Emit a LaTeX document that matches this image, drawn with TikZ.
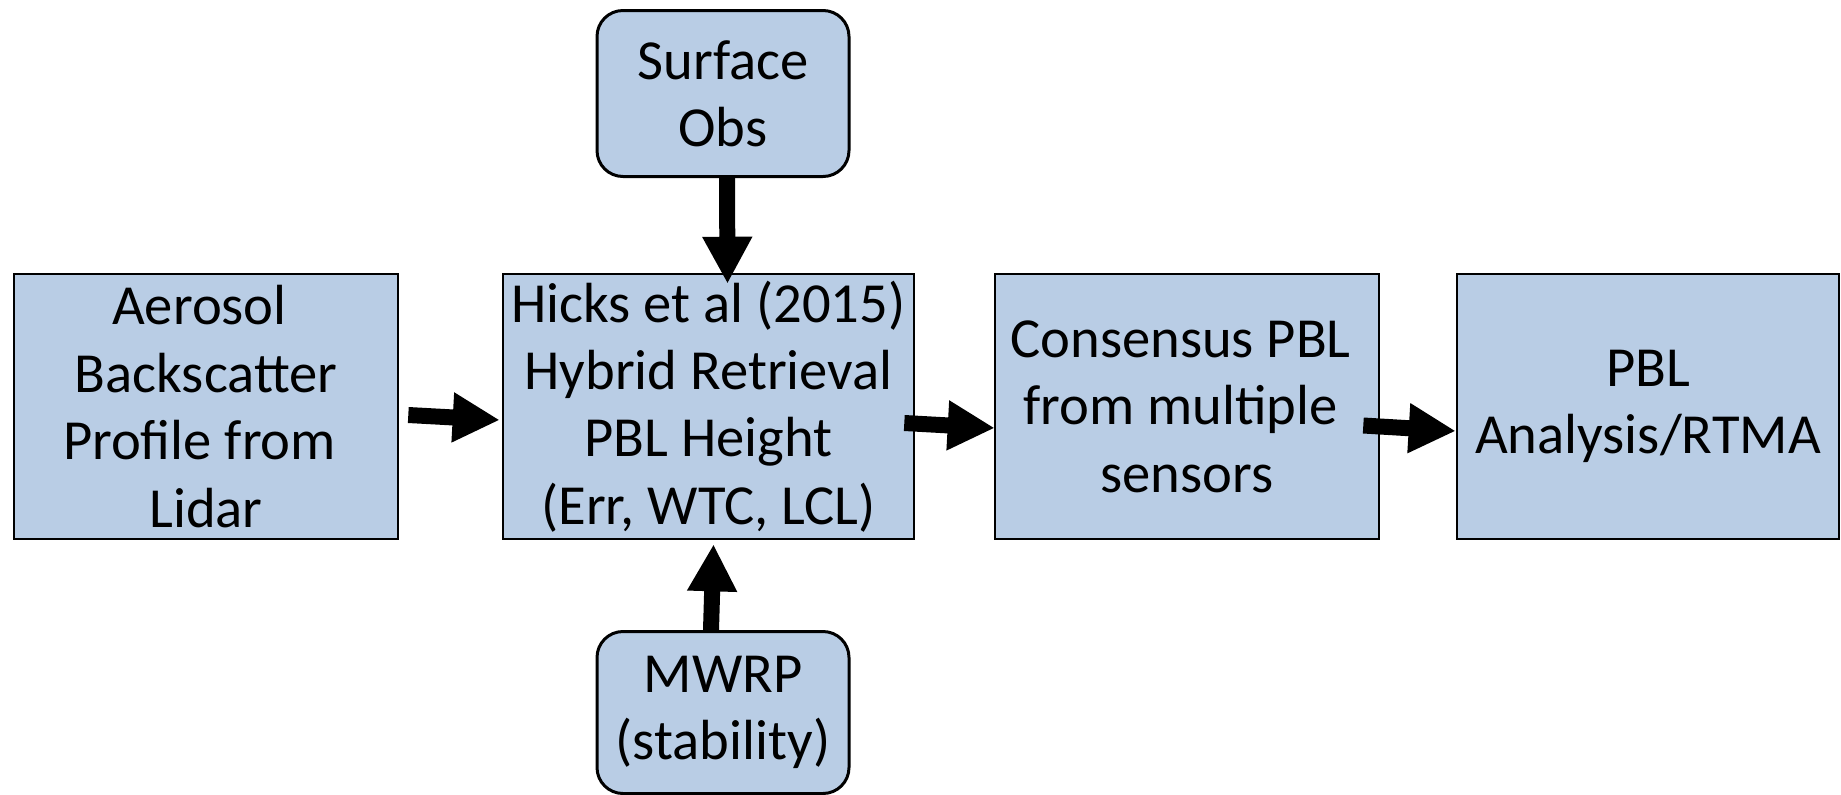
\documentclass[tikz,border=0pt]{standalone}
\usepackage{fontspec}
\setmainfont{Carlito}
\usetikzlibrary{arrows.meta}
\definecolor{boxblue}{RGB}{185,205,229}
\tikzset{
  box/.style={draw=black, fill=boxblue, line width=1.3pt, inner sep=0pt, align=center,
    font=\fontsize{28.3}{33.7}\selectfont},
  rbox/.style={box, rounded corners=13pt, line width=1.5pt},
  blockarrow/.style={line width=8pt, black, -{Triangle[length=23.5pt,width=23.5pt]}},
}
\begin{document}
\begin{tikzpicture}[x=0.5pt,y=-0.5pt]
\useasboundingbox (0,0) rectangle (1841,794);
\node[box, minimum width=192pt, minimum height=132.5pt] (A) at (206,406.5)
  {Aerosol\kern0.23em\\Backscatter\\Profile from\kern0.23em\\Lidar};
\node[box, minimum width=205.5pt, minimum height=132.5pt] (H) at (708.5,406.5)
  {Hicks et al (2015)\\Hybrid Retrieval\\PBL Height\\(Err, WTC, LCL)};
\node[box, minimum width=192pt, minimum height=132.5pt] (C) at (1187,406.5)
  {Consensus PBL\kern0.23em\\from multiple\kern0.23em\\sensors};
\node[box, minimum width=191pt, minimum height=132.5pt] (P) at (1648,406.5)
  {PBL\\Analysis/RTMA};
\node[rbox, minimum width=126pt, minimum height=83pt] (S) at (723,93.5)
  {Surface\\Obs};
\node[rbox, minimum width=126pt, minimum height=81pt] (M) at (723,712.5)
  {MWRP\\(stability)};
\draw[blockarrow] ([shift={(9,8.5)}]A.east) -- ([shift={(-2,13.5)}]H.west);
\draw[blockarrow] ([shift={(4,0)}]S.south) -- ([shift={(19,11)}]H.north);
\draw[blockarrow] ([shift={(-12,0)}]M.north) -- ([shift={(5,4)}]H.south);
\draw[blockarrow] ([shift={(-11,16.5)}]H.east) -- ([shift={(1,21.5)}]C.west);
\draw[blockarrow] ([shift={(-17,19)}]C.east) -- ([shift={(0,24.5)}]P.west);
\end{tikzpicture}
\end{document}
